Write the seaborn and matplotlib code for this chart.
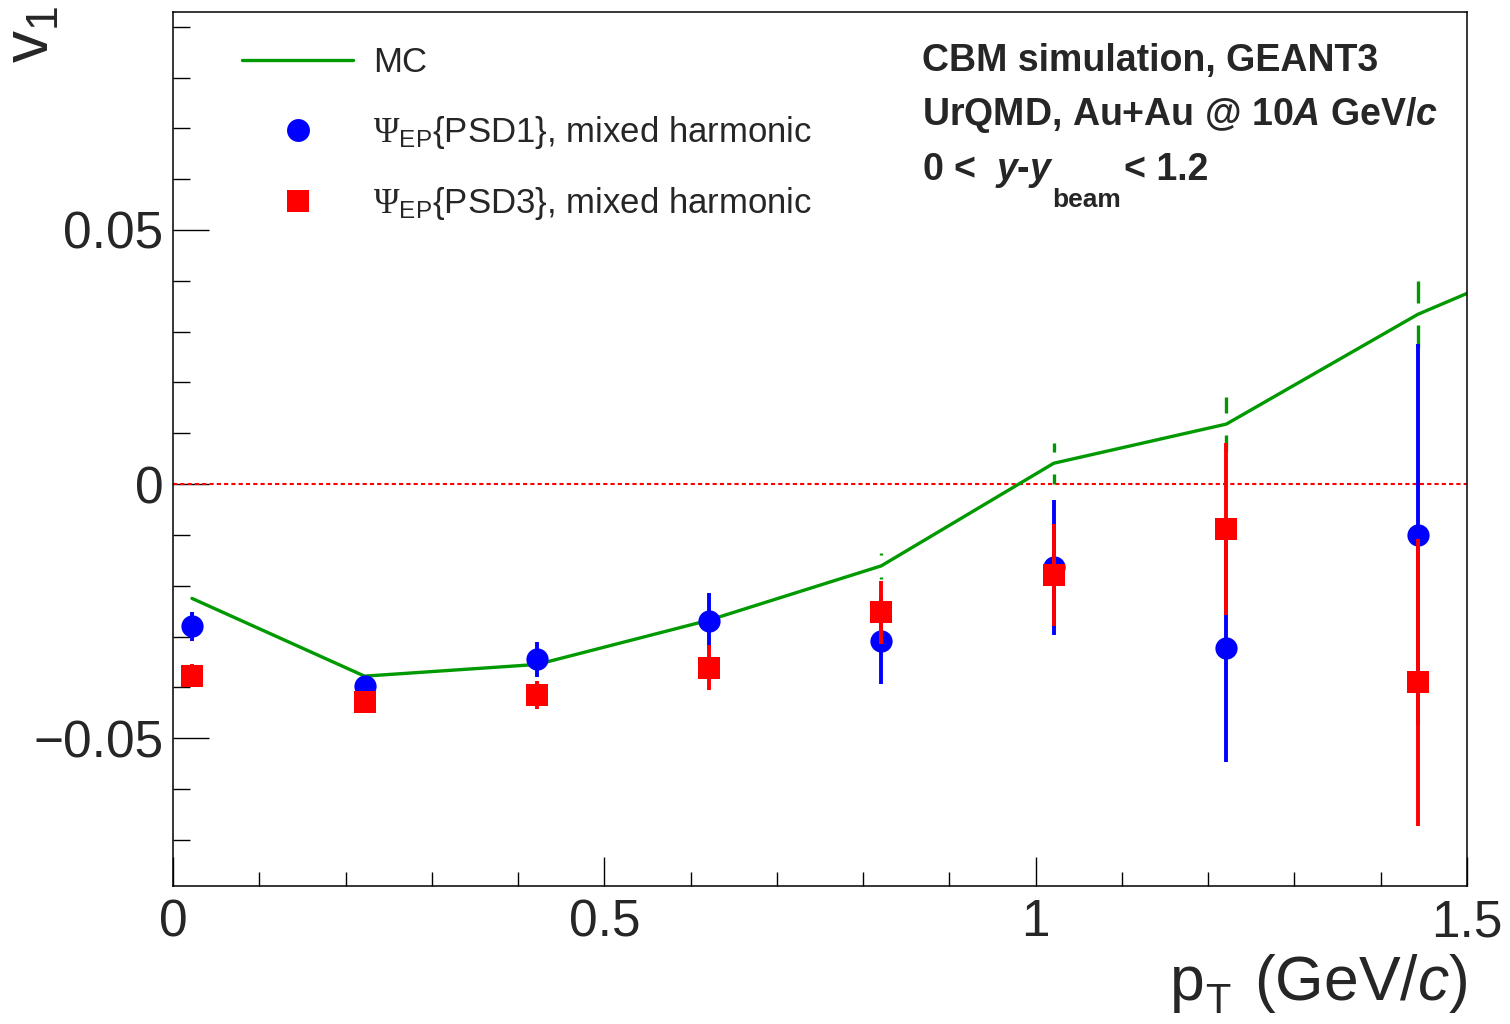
import numpy as np
import pandas as pd
import matplotlib
matplotlib.use("Agg")
import matplotlib.pyplot as plt
import seaborn as sns
from matplotlib.lines import Line2D
from matplotlib.ticker import MultipleLocator, FixedLocator, FixedFormatter

# ---------------- data ----------------
pt = [0.022, 0.222, 0.422, 0.621, 0.821, 1.021, 1.221, 1.443]
mc_pt = [0.022, 0.222, 0.422, 0.621, 0.821, 1.021, 1.221, 1.443, 1.70]
mc_v1 = [-0.0225, -0.0378, -0.0355, -0.0268, -0.0161, 0.0041, 0.0118, 0.0334, 0.052]
mc_err = [0.0008, 0.0010, 0.0013, 0.0020, 0.0025, 0.0040, 0.0053, 0.0066, 0.0080]
psd1_v1 = [-0.0280, -0.0398, -0.0345, -0.0270, -0.0308, -0.0164, -0.0323, -0.0100]
psd1_err = [0.0029, 0.0020, 0.0034, 0.0055, 0.0085, 0.0133, 0.0224, 0.0375]
psd3_v1 = [-0.0377, -0.0428, -0.0415, -0.0361, -0.0252, -0.0179, -0.0089, -0.0390]
psd3_err = [0.0022, 0.0020, 0.0027, 0.0044, 0.0062, 0.0101, 0.0169, 0.0282]

x_ticks = [0, 0.5, 1, 1.5]
x_ticklabels = ["0", "0.5", "1", "1.5"]
y_ticks = [-0.05, 0, 0.05]
y_ticklabels = ["\u22120.05", "0", "0.05"]

labels = ["MC",
          r"$\mathcal{\Psi}_\mathrm{EP}${PSD1}, mixed harmonic",
          r"$\mathcal{\Psi}_\mathrm{EP}${PSD3}, mixed harmonic"]

# ---------------- style ----------------
sns.set_style("ticks")
plt.rcParams["font.family"] = ["Liberation Sans", "DejaVu Sans"]
plt.rcParams["mathtext.fontset"] = "custom"
plt.rcParams["mathtext.rm"] = "Liberation Sans"
plt.rcParams["mathtext.sf"] = "Liberation Sans:italic"
plt.rcParams["mathtext.it"] = "Liberation Sans:italic"
plt.rcParams["mathtext.bf"] = "Liberation Sans:bold"
plt.rcParams["mathtext.bfit"] = "Liberation Sans:italic:bold"
plt.rcParams["mathtext.cal"] = "Liberation Serif"

GREEN = "#009900"
BLUE = "#0000ff"
RED = "#ff0000"

W, H = 1510, 1024
fig = plt.figure(figsize=(W / 100, H / 100), dpi=100)
fig.patch.set_facecolor("white")
L, R, T, B = 173, 1467, 12, 886
ax = fig.add_axes([L / W, 1 - B / H, (R - L) / W, (B - T) / H])
ax.set_facecolor("white")

xmin, xmax = 0.0, 1.5
ymin, ymax = -0.0791, 0.0929
ax.set_xlim(xmin, xmax)
ax.set_ylim(ymin, ymax)

# zero line
ax.axhline(0, color=RED, linewidth=1.5, linestyle=(0, (2, 1.5)), zorder=1)

# MC line
sns.lineplot(x=mc_pt, y=mc_v1, color=GREEN, linewidth=2.4, ax=ax,
             errorbar=None, sort=False, legend=False, zorder=2)

# MC error bars with a gap around the point (ROOT style)
gap = 11 * (ymax - ymin) / (B - T)
for x, y, e in zip(mc_pt, mc_v1, mc_err):
    if e > gap:
        ax.vlines([x, x], [y - e, y + gap], [y - gap, y + e], colors=GREEN,
                  linewidth=2.4, zorder=2)

# PSD1
ax.vlines(pt, np.array(psd1_v1) - np.array(psd1_err),
          np.array(psd1_v1) + np.array(psd1_err), colors=BLUE, linewidth=2.8, zorder=3)
sns.scatterplot(x=pt, y=psd1_v1, marker="o", s=16 ** 2, color=BLUE, linewidth=0,
                ax=ax, legend=False, zorder=4)
# PSD3
ax.vlines(pt, np.array(psd3_v1) - np.array(psd3_err),
          np.array(psd3_v1) + np.array(psd3_err), colors=RED, linewidth=2.8, zorder=5)
sns.scatterplot(x=pt, y=psd3_v1, marker="s", s=16.5 ** 2, color=RED, linewidth=0,
                ax=ax, legend=False, zorder=6)

# ---------------- axes ----------------
for sp in ax.spines.values():
    sp.set_visible(True)
    sp.set_color("black")
    sp.set_linewidth(1.1)

ax.xaxis.set_major_locator(FixedLocator(x_ticks))
ax.xaxis.set_major_formatter(FixedFormatter(x_ticklabels))
ax.xaxis.set_minor_locator(MultipleLocator(0.1))
ax.yaxis.set_major_locator(FixedLocator(y_ticks))
ax.yaxis.set_major_formatter(FixedFormatter(y_ticklabels))
ax.yaxis.set_minor_locator(MultipleLocator(0.01))

ax.tick_params(axis="x", which="major", direction="in", length=21, width=1.0,
               labelsize=37, pad=9, color="black")
ax.tick_params(axis="x", which="minor", direction="in", length=10, width=1.0, color="black")
ax.tick_params(axis="y", which="major", direction="in", length=26, width=1.0,
               labelsize=37, pad=7, color="black")
ax.tick_params(axis="y", which="minor", direction="in", length=12, width=1.0, color="black")
ax.tick_params(top=False, right=False, which="both")
ax.set_xlabel("")
ax.set_ylabel("")

# axis titles
fig.text(1467 / W, 1 - 1000 / H, r"(GeV/$\mathsf{c}$)", fontsize=45,
         ha="right", va="baseline")
fig.text(1170 / W, 1 - 1000 / H, "p", fontsize=45, ha="left", va="baseline")
fig.text(1205 / W, 1 - 1022 / H, "T", fontsize=30, ha="left", va="bottom")
fig.text(32 / W, 1 - 6 / H, r"v$_1$", fontsize=46, rotation=90, ha="center", va="top")

# legend
handles = [Line2D([], [], color=GREEN, linewidth=2.4),
           Line2D([], [], color=BLUE, marker="o", linestyle="none", markersize=16.5, mew=0),
           Line2D([], [], color=RED, marker="s", linestyle="none", markersize=16.5, mew=0)]
ax.legend(handles, labels, loc="upper left", bbox_to_anchor=(242 / W, 1 - 46 / H),
          bbox_transform=fig.transFigure, frameon=False, fontsize=25,
          handlelength=3.2, handletextpad=0.58, labelspacing=1.0,
          borderpad=0, borderaxespad=0)

# annotation text
TX = 922 / W
FS = 27
fig.text(TX, 1 - 71 / H, "CBM simulation, GEANT3", fontsize=FS, fontweight="bold",
         va="baseline", ha="left")
fig.text(TX, 1 - 125 / H, r"UrQMD, Au+Au @ 10$\mathbfit{A}$ GeV/$\mathbfit{c}$",
         fontsize=FS, fontweight="bold", va="baseline", ha="left")
fig.text(TX, 1 - 180 / H, r"0 <  $\mathbfit{y}$-$\mathbfit{y}$", fontsize=FS,
         fontweight="bold", va="baseline", ha="left")
fig.text(1052 / W, 1 - 207 / H, "beam", fontsize=19, fontweight="bold",
         va="baseline", ha="left")
fig.text(1124 / W, 1 - 180 / H, "< 1.2", fontsize=FS, fontweight="bold",
         va="baseline", ha="left")

fig.savefig("out.png", dpi=100, facecolor="white")
